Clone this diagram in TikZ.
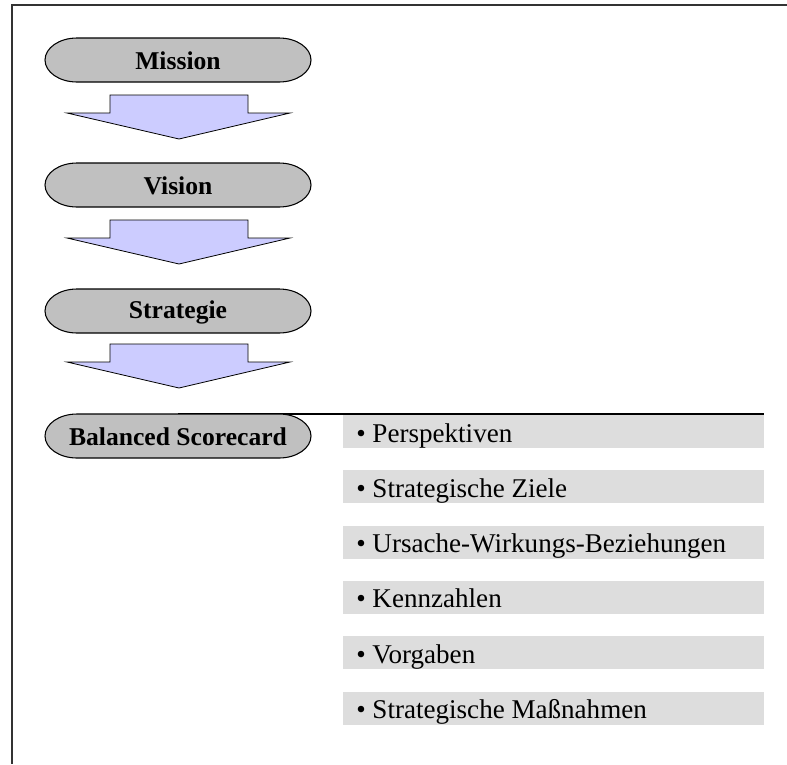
\documentclass[tikz,border=0pt]{standalone}
\usepackage{fontspec}
\setmainfont{Liberation Serif}
\definecolor{capgray}{HTML}{C0C0C0}
\definecolor{arrowblue}{HTML}{CCCCFF}
\definecolor{rowgray}{HTML}{DDDDDD}
\definecolor{framecol}{HTML}{333333}
\begin{document}
\begin{tikzpicture}[x=0.75pt,y=-0.75pt,
  capsule/.style={draw=black, line width=0.8pt, fill=capgray},
  blockarrow/.style={fill=arrowblue, draw=black, line width=0.6pt},
  captext/.style={font=\fontsize{19.2}{22}\selectfont\bfseries, inner sep=0pt},
  rowbox/.style={fill=rowgray, draw=none},
  rowtext/.style={font=\fontsize{20.3}{23}\selectfont, anchor=base west, inner sep=0pt},
  rule/.style={draw=black, line width=0.8pt}]
\useasboundingbox (0,0) rectangle (787,764);

% outer frame (top and left edges)
\draw[framecol, line width=1.2pt] (787,5) -- (12,5) -- (12,764);

% list rows of the scorecard
\foreach \i/\txt in {0/Perspektiven, 1/Strategische Ziele,
    2/Ursache-Wirkungs-Beziehungen, 3/Kennzahlen, 4/Vorgaben,
    5/Strategische Maßnahmen}{
  \pgfmathsetmacro{\top}{415+55.3*\i}
  \fill[rowbox] (343,\top) rectangle (764,{\top+33});
  \node[rowtext] (r\i) at (356,{\top+27}) {•\ \txt};
}

% separator line above the list
\coordinate (ruleend) at (764,414);
\draw[rule] (178,414) -- (ruleend);

% block arrows between the stages
\foreach \t in {95,220,344}{
  \path[blockarrow] (110,\t) -- (248,\t) -- (248,{\t+18}) -- (290,{\t+18})
    -- (179,{\t+44}) -- (67,{\t+18}) -- (110,{\t+18}) -- cycle;
}

% stage capsules
\foreach \t/\n/\lab in {38/mission/Mission, 163/vision/Vision,
    289/strategie/Strategie, 414/bsc/Balanced Scorecard}{
  \path[capsule] (77,\t) -- (279,\t)
    .. controls (296.7,\t) and (311,{\t+9.85}) .. (311,{\t+22})
    .. controls (311,{\t+34.15}) and (296.7,{\t+44}) .. (279,{\t+44})
    -- (77,{\t+44})
    .. controls (59.3,{\t+44}) and (45,{\t+34.15}) .. (45,{\t+22})
    .. controls (45,{\t+9.85}) and (59.3,\t) .. cycle;
  \node[captext] (\n) at (178,{\t+23}) {\lab};
}
\end{tikzpicture}
\end{document}
